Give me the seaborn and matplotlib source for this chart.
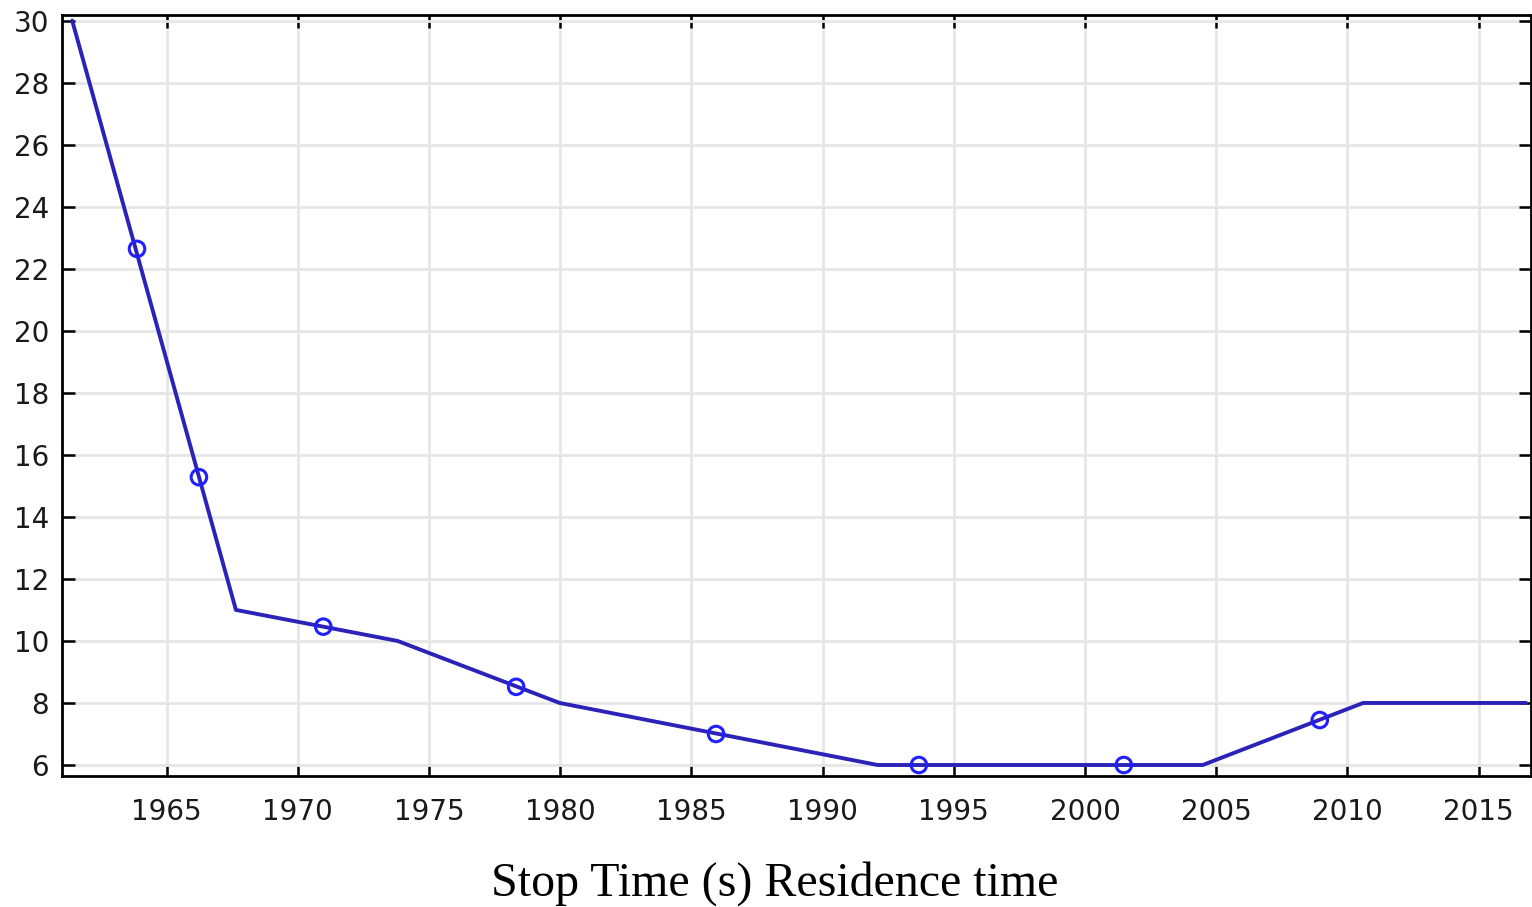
import numpy as np
import pandas as pd
import seaborn as sns
import matplotlib.pyplot as plt

# line vertices (year, value)
line_years = [1961.4, 1967.64, 1973.8, 1979.98, 1992.1, 2004.49, 2010.6, 2016.81]
line_values = [30, 11, 10, 8, 6, 6, 8, 8]

# circle markers along the curve
marker_years = [1963.87, 1966.23, 1970.97, 1978.32, 1985.94, 1993.67, 2001.48, 2008.95]
marker_values = [22.64, 15.28, 10.46, 8.52, 7.0, 6.0, 6.0, 7.45]

x_ticks = [1965, 1970, 1975, 1980, 1985, 1990, 1995, 2000, 2005, 2010, 2015]
y_ticks = [6, 8, 10, 12, 14, 16, 18, 20, 22, 24, 26, 28, 30]
x_label = "Stop Time (s) Residence time"

line_df = pd.DataFrame({"year": line_years, "value": line_values})
marker_df = pd.DataFrame({"year": marker_years, "value": marker_values})

sns.set_theme(style="whitegrid")
plt.rcParams['font.family'] = ['DejaVu Sans']

fig = plt.figure(figsize=(15.32, 9.07), dpi=100)
ax = fig.add_axes([61.7 / 1532, 1 - 775.7 / 907, (1531 - 61.7) / 1532, (775.7 - 15) / 907])

sns.lineplot(data=line_df, x="year", y="value", ax=ax, color="#2b22b8",
             linewidth=2.8, estimator=None, sort=False)
sns.scatterplot(data=marker_df, x="year", y="value", ax=ax, marker="o", s=125,
                facecolor="none", edgecolor="#1f1fff", linewidth=2.2, zorder=3)

ax.set_xlim(1961.0, 2017.0)
ax.set_ylim(5.655, 30.18)
ax.set_xticks(x_ticks)
ax.set_yticks(y_ticks)

ax.grid(True, color="#e6e6e6", linewidth=2)
for side in ["left", "bottom", "top", "right"]:
    ax.spines[side].set_color("black")
    ax.spines[side].set_linewidth(2)
ax.tick_params(axis="both", which="major", direction="in", length=9, width=1.8,
               color="black", labelsize=20, labelcolor="#1a1a1a",
               top=True, right=True, bottom=True, left=True)
ax.tick_params(axis="x", pad=16)
ax.tick_params(axis="y", pad=9)

ax.set_xlabel("")
ax.set_ylabel("")
fig.text(775 / 1532, 11 / 907, x_label, ha="center", va="baseline",
         fontsize=34.5, family=["Liberation Serif", "DejaVu Serif"], color="black")

fig.savefig("out.png", dpi=100, facecolor="white")
